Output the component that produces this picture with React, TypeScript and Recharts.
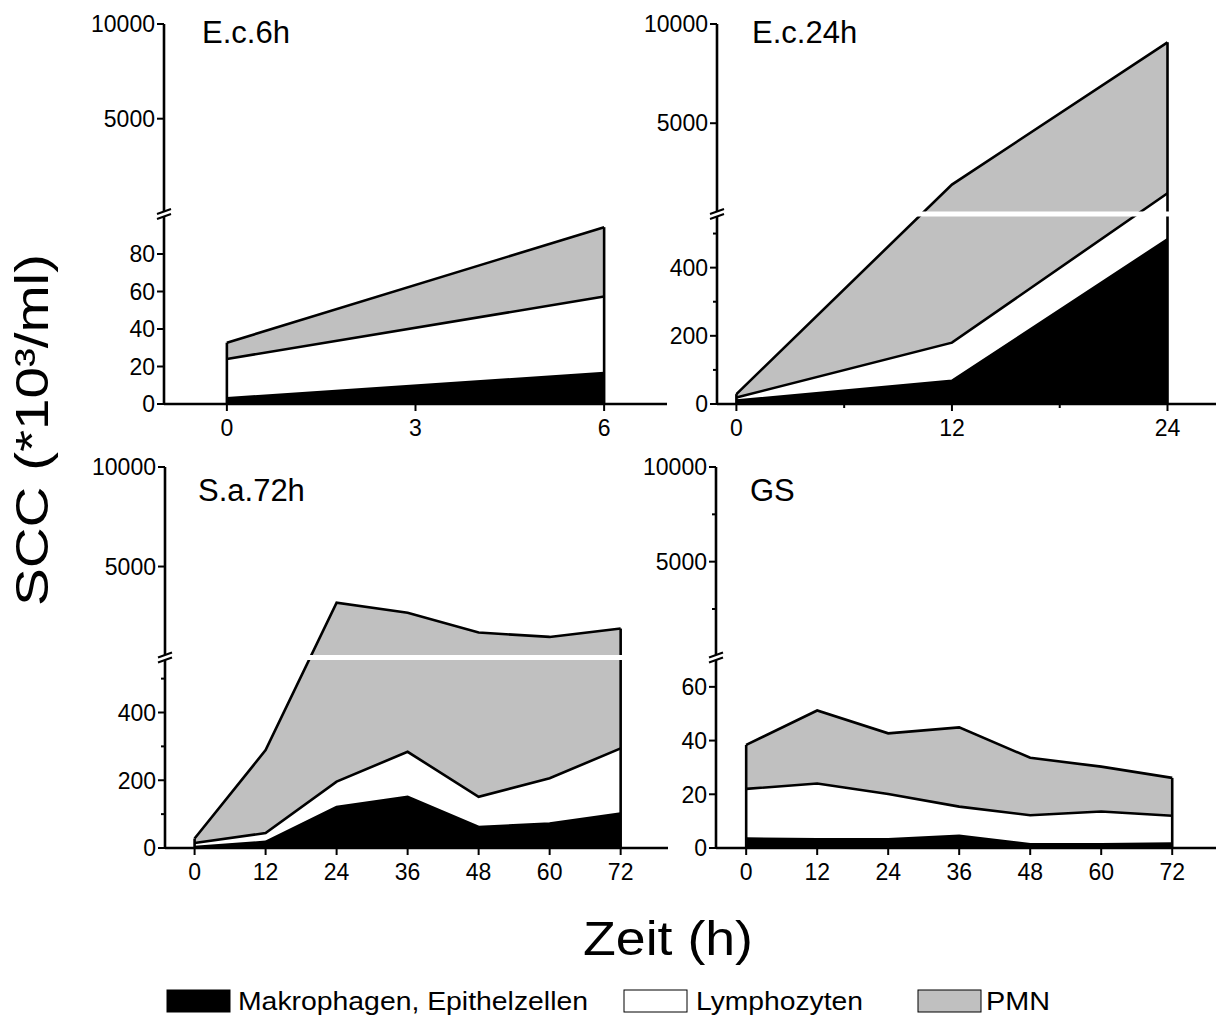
import React, { useMemo } from "react";
import { AreaChart, Area, XAxis, YAxis, ReferenceArea, ReferenceLine } from "recharts";

const FONT = "'Liberation Sans', Arial, Helvetica, sans-serif";
const GREY = "#c0c0c0";

// E.c.6h
const hoursEc6 = [0, 6];
const makEc6 = [3, 16.5];
const lymEc6 = [21, 40.8];
const pmnEc6 = [8.7, 37];

// E.c.24h
const hoursEc24 = [0, 12, 24];
const makEc24 = [10, 68, 483];
const lymEc24 = [9, 112, 988];
const pmnEc24 = [10, 1729, 7603];

// S.a.72h
const hours72 = [0, 12, 24, 36, 48, 60, 72];
const makSa72 = [3, 18, 121, 151, 62, 72, 102];
const lymSa72 = [12, 26, 75, 133, 89, 134, 192];
const pmnSa72 = [13, 245, 2985, 2398, 1532, 1258, 1589];

// GS
const makGs = [3.5, 3.2, 3.2, 4.5, 1.4, 1.4, 1.7];
const lymGs = [18.5, 20.8, 16.9, 10.9, 10.8, 12.2, 10.3];
const pmnGs = [16.4, 27.2, 22.6, 29.5, 21.4, 16.7, 14.1];

// axis ticks (all ticks, and the ones that carry a label)
const yTicksEc6 = [0, 20, 40, 60, 80, 5000, 10000];
const yTicksBig = [0, 100, 200, 300, 400, 500, 5000, 10000];
const yLabelsBig = [0, 200, 400, 5000, 10000];
const yTicksGs = [0, 20, 40, 60, 2500, 5000, 7500, 10000];
const yLabelsGs = [0, 20, 40, 60, 5000, 10000];
const xTicksEc6 = [0, 3, 6];
const xTicksEc24 = [0, 6, 12, 18, 24];
const xLabelsEc24 = [0, 12, 24];

const legendItems = [
  { name: "Makrophagen, Epithelzellen", fill: "#000" },
  { name: "Lymphozyten", fill: "#fff" },
  { name: "PMN", fill: GREY },
];

// broken linear scale: lower half [0, brk], a small gap, upper half [brk+eps, max]
function brokenScale(brk: number, eps: number, gapPx: number, lowFrac: number) {
  let dom = [0, 10000];
  let rng = [1, 0];
  const s: any = (v: number) => {
    if (typeof v !== "number" || isNaN(v)) return NaN;
    const span = rng[1] - rng[0];
    const dir = span < 0 ? -1 : 1;
    const usable = Math.abs(span) - gapPx;
    const lowPx = usable * lowFrac;
    const upPx = usable - lowPx;
    const hi = brk + eps;
    let off;
    if (v <= brk) off = ((v - dom[0]) / (brk - dom[0])) * lowPx;
    else if (v < hi) off = lowPx + ((v - brk) / eps) * gapPx;
    else off = lowPx + gapPx + ((v - hi) / (dom[1] - hi)) * upPx;
    return rng[0] + dir * off;
  };
  s.domain = (d?: number[]) => {
    if (d === undefined) return dom.slice();
    dom = d.map(Number);
    return s;
  };
  s.range = (r?: number[]) => {
    if (r === undefined) return rng.slice();
    rng = r.map(Number);
    return s;
  };
  s.copy = () => brokenScale(brk, eps, gapPx, lowFrac).domain(dom).range(rng);
  s.ticks = () => dom.slice();
  s.tickFormat = () => (v: number) => String(v);
  s.clamp = () => s;
  s.nice = () => s;
  s.invert = (px: number) => {
    const span = rng[1] - rng[0];
    const usable = Math.abs(span) - gapPx;
    const lowPx = usable * lowFrac;
    const off = Math.abs(px - rng[0]);
    if (off <= lowPx) return (off / lowPx) * brk;
    return brk + eps + ((off - lowPx - gapPx) / (usable - lowPx)) * (dom[1] - brk - eps);
  };
  return s;
}

function YTick(props: any) {
  const { x, y, payload, labels } = props;
  const major = labels.includes(payload.value);
  return (
    <g>
      <line x1={x - (major ? 7 : 4)} y1={y} x2={x} y2={y} stroke="#000" strokeWidth={2} />
      {major && (
        <text x={x - 9} y={y} dy="0.36em" textAnchor="end" fontSize={23} fontFamily={FONT} fill="#000">
          {payload.value}
        </text>
      )}
    </g>
  );
}

function XTick(props: any) {
  const { x, y, payload, labels } = props;
  const major = labels.includes(payload.value);
  return (
    <g>
      <line x1={x} y1={y} x2={x} y2={y + (major ? 7 : 4)} stroke="#000" strokeWidth={2} />
      {major && (
        <text x={x} y={y + 32} textAnchor="middle" fontSize={23} fontFamily={FONT} fill="#000">
          {payload.value}
        </text>
      )}
    </g>
  );
}

function BreakBand(props: any) {
  const { x, y, width, height } = props;
  return (
    <g>
      <rect x={x - 2} y={y} width={width + 4} height={height} fill="#fff" />
      <line x1={x - 7} y1={y + 2.5} x2={x + 7} y2={y - 2.5} stroke="#000" strokeWidth={2} />
      <line x1={x - 7} y1={y + height + 2.5} x2={x + 7} y2={y + height - 2.5} stroke="#000" strokeWidth={2} />
    </g>
  );
}

type PanelProps = {
  hours: number[];
  mak: number[];
  lym: number[];
  pmn: number[];
  brk: number;
  xDomain: number[];
  xTicks: number[];
  xLabels: number[];
  yTicks: number[];
  yLabels: number[];
  margin: { top: number; right: number; bottom: number; left: number };
};

function Panel(p: PanelProps) {
  const rows = p.hours.map((h, i) => ({ h, mak: p.mak[i], lym: p.lym[i], pmn: p.pmn[i] }));
  const eps = p.brk * 0.001;
  const yScale = useMemo(() => brokenScale(p.brk, eps, 5, 0.5), [p.brk]);
  const last = p.hours.length - 1;
  const total = (i: number) => p.mak[i] + p.lym[i] + p.pmn[i];
  const edges = [0, last];
  const lw = 2.6;

  return (
    <div style={{ position: "absolute", left: 0, top: 0 }}>
      <AreaChart width={1216} height={1018} data={rows} margin={p.margin}>
        <XAxis
          type="number"
          dataKey="h"
          domain={p.xDomain}
          allowDataOverflow
          ticks={p.xTicks}
          interval={0}
          tickSize={0}
          tickMargin={0}
          tickLine={false}
          height={30}
          stroke="#000"
          axisLine={{ stroke: "#000", strokeWidth: 2.6 }}
          tick={(t: any) => <XTick {...t} labels={p.xLabels} />}
        />
        <YAxis
          type="number"
          domain={[0, 10000]}
          allowDataOverflow
          scale={yScale}
          ticks={p.yTicks}
          interval={0}
          tickSize={0}
          tickMargin={0}
          tickLine={false}
          width={60}
          stroke="#000"
          axisLine={{ stroke: "#000", strokeWidth: 2.6 }}
          tick={(t: any) => <YTick {...t} labels={p.yLabels} />}
        />
        <Area type="linear" dataKey="mak" stackId="fill" fill="#000" fillOpacity={1} stroke="none" isAnimationActive={false} />
        <Area type="linear" dataKey="lym" stackId="fill" fill="#fff" fillOpacity={1} stroke="none" isAnimationActive={false} />
        <Area type="linear" dataKey="pmn" stackId="fill" fill={GREY} fillOpacity={1} stroke="none" isAnimationActive={false} />
        <Area type="linear" dataKey="mak" stackId="line" fill="none" stroke="#000" strokeWidth={lw} isAnimationActive={false} />
        <Area type="linear" dataKey="lym" stackId="line" fill="none" stroke="#000" strokeWidth={lw} isAnimationActive={false} />
        <Area type="linear" dataKey="pmn" stackId="line" fill="none" stroke="#000" strokeWidth={lw} isAnimationActive={false} />
        {edges.map((i) => (
          <ReferenceLine
            key={i}
            segment={[
              { x: p.hours[i], y: 0 },
              { x: p.hours[i], y: total(i) },
            ]}
            stroke="#000"
            strokeWidth={lw}
            zIndex={1200}
          />
        ))}
        <ReferenceArea y1={p.brk} y2={p.brk + eps} fill="#fff" fillOpacity={1} zIndex={1500} shape={<BreakBand />} />
      </AreaChart>
    </div>
  );
}

function Overlay() {
  return (
    <svg width={1216} height={1018} style={{ position: "absolute", left: 0, top: 0 }} fontFamily={FONT}>
      <text fontSize={31} x={202} y={43}>E.c.6h</text>
      <text fontSize={31} x={752} y={43}>E.c.24h</text>
      <text fontSize={31} x={198} y={501}>S.a.72h</text>
      <text fontSize={31} x={750} y={501}>GS</text>
      <text
        transform="translate(48,430) rotate(-90)"
        textAnchor="middle"
        fontSize={46}
        textLength={352}
        lengthAdjust="spacingAndGlyphs"
      >
        SCC (*10³/ml)
      </text>
      <text x={668} y={955} textAnchor="middle" fontSize={49} textLength={170} lengthAdjust="spacingAndGlyphs">
        Zeit (h)
      </text>
      {legendItems.map((it, i) => {
        const bx = [167, 624, 918][i];
        const tx = [238, 696, 986][i];
        const tl = [350, 167, 64][i];
        return (
          <g key={it.name}>
            <rect x={bx} y={990} width={63} height={22} fill={it.fill} stroke="#000" strokeWidth={1} />
            <text x={tx} y={1010} fontSize={25} textLength={tl} lengthAdjust="spacingAndGlyphs">
              {it.name}
            </text>
          </g>
        );
      })}
    </svg>
  );
}

export default function App() {
  return (
    <div style={{ position: "fixed", left: 0, top: 0, width: 1216, height: 1018, overflow: "hidden", background: "#fff" }}>
      <Panel
        hours={hoursEc6}
        mak={makEc6}
        lym={lymEc6}
        pmn={pmnEc6}
        brk={100}
        xDomain={[-1, 7]}
        xTicks={xTicksEc6}
        xLabels={xTicksEc6}
        yTicks={yTicksEc6}
        yLabels={yTicksEc6}
        margin={{ top: 24, right: 549, bottom: 584, left: 104 }}
      />
      <Panel
        hours={hoursEc24}
        mak={makEc24}
        lym={lymEc24}
        pmn={pmnEc24}
        brk={550}
        xDomain={[-1.08, 26.7]}
        xTicks={xTicksEc24}
        xLabels={xLabelsEc24}
        yTicks={yTicksBig}
        yLabels={yLabelsBig}
        margin={{ top: 24, right: 0, bottom: 584, left: 657 }}
      />
      <Panel
        hours={hours72}
        mak={makSa72}
        lym={lymSa72}
        pmn={pmnSa72}
        brk={555}
        xDomain={[-5, 80]}
        xTicks={hours72}
        xLabels={hours72}
        yTicks={yTicksBig}
        yLabels={yLabelsBig}
        margin={{ top: 467, right: 548, bottom: 140, left: 105 }}
      />
      <Panel
        hours={hours72}
        mak={makGs}
        lym={lymGs}
        pmn={pmnGs}
        brk={70}
        xDomain={[-5.1, 79.4]}
        xTicks={hours72}
        xLabels={hours72}
        yTicks={yTicksGs}
        yLabels={yLabelsGs}
        margin={{ top: 467, right: 0, bottom: 140, left: 656 }}
      />
      <Overlay />
    </div>
  );
}
